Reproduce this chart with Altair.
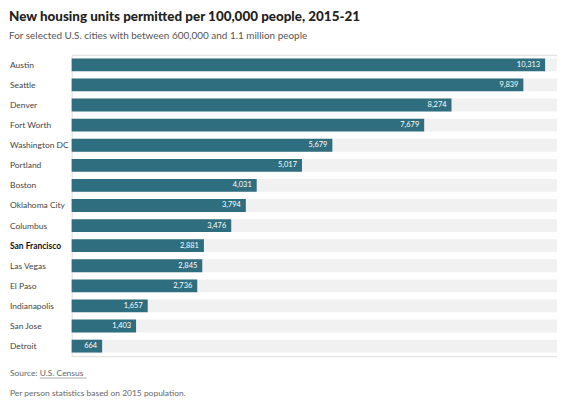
import altair as alt
import pandas as pd

cities = ["Austin", "Seattle", "Denver", "Fort Worth", "Washington DC", "Portland",
          "Boston", "Oklahoma City", "Columbus", "San Francisco", "Las Vegas",
          "El Paso", "Indianapolis", "San Jose", "Detroit"]
values = [10313, 9839, 8274, 7679, 5679, 5017, 4031, 3794, 3476, 2881, 2845,
          2736, 1657, 1403, 664]
highlight = ["San Francisco"]

title_text = "New housing units permitted per 100,000 people, 2015-21"
subtitle_text = "For selected U.S. cities with between 600,000 and 1.1 million people"
source_label = "Source: "
source_link = "U.S. Census"
footnote = "Per person statistics based on 2015 population."

df = pd.DataFrame({"city": cities, "value": values})
df["bold"] = df["city"].isin(highlight)

W, H = 488, 303
FONT = "Lato"
TEAL = "#2f6e7e"

y = alt.Y("city:N", sort=cities, axis=None,
          scale=alt.Scale(paddingInner=0.36, paddingOuter=0.18))
xscale = alt.Scale(domain=[0, 10572], nice=False, zero=True)

base = alt.Chart(df)

bands = base.mark_bar(color="#f1f1f1").encode(
    y=y, x=alt.value(0), x2=alt.value(W))

bars = base.mark_bar(color=TEAL).encode(
    y=y, x=alt.X("value:Q", scale=xscale, axis=None))

vals = base.mark_text(align="right", baseline="middle", dx=-5, color="white",
                      font=FONT, fontSize=7.5).encode(
    y=y, x=alt.X("value:Q", scale=xscale),
    text=alt.Text("value:Q", format=","))

names = base.transform_filter("!datum.bold").mark_text(
    align="left", baseline="middle", color="#444444", font=FONT, fontSize=8.5).encode(
    y=y, x=alt.value(-62), text="city:N")

names_bold = base.transform_filter("datum.bold").mark_text(
    align="left", baseline="middle", color="#111111", font=FONT, fontSize=8.5,
    fontWeight="bold").encode(
    y=y, x=alt.value(-62), text="city:N")

notes = pd.DataFrame({"t": [source_label]})
src = alt.Chart(notes).mark_text(align="left", baseline="middle", color="#666666",
                                 font=FONT, fontSize=8.5).encode(
    x=alt.value(-62), y=alt.value(H + 17), text="t:N")
src_link = alt.Chart(pd.DataFrame({"t": [source_link]})).mark_text(
    align="left", baseline="middle", color="#666666", font=FONT, fontSize=8.5).encode(
    x=alt.value(-32), y=alt.value(H + 17), text="t:N")
underline = alt.Chart(pd.DataFrame({"t": [source_link]})).mark_rule(
    color="#888888", strokeWidth=0.7).encode(
    x=alt.value(-32), x2=alt.value(15), y=alt.value(H + 22))
foot = alt.Chart(pd.DataFrame({"t": [footnote]})).mark_text(
    align="left", baseline="middle", color="#666666", font=FONT, fontSize=8.5).encode(
    x=alt.value(-62), y=alt.value(H + 37), text="t:N")

chart = alt.layer(bands, bars, vals, names, names_bold, src, src_link, underline, foot).properties(
    width=W, height=H,
    title=alt.TitleParams(
        text=title_text, subtitle=subtitle_text, anchor="start", frame="group",
        dx=-63, offset=14, font=FONT, fontSize=13.5, fontWeight=900, color="#222222",
        subtitleFont=FONT, subtitleFontSize=10, subtitleColor="#555555",
        subtitlePadding=7),
    autosize=alt.AutoSizeParams(type="none"),
    padding={"left": 64, "top": 46, "right": 0, "bottom": 41},
).configure_view(stroke=None).configure(background="white")

chart.save("out.html", embed_options={"renderer": "svg", "actions": False})
